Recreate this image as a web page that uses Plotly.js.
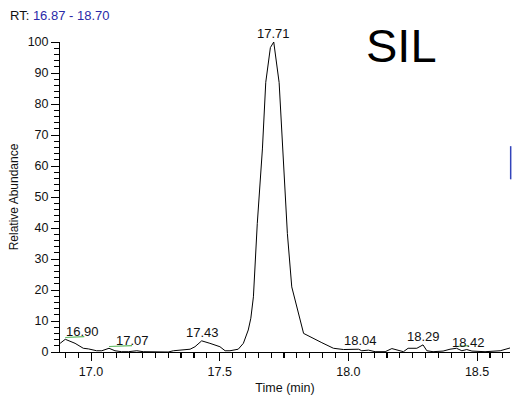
<!DOCTYPE html>
<html>
<head>
<meta charset="utf-8">
<script src="https://cdn.plot.ly/plotly-3.0.1.min.js"></script>
<style>html,body{margin:0;padding:0;background:#fff;}#chart{width:512px;height:395px;}</style>
</head>
<body>
<div id="chart"></div>
<script>
// Retention time (min)
var times = [16.880,16.900,16.938,16.970,16.990,17.022,17.042,17.070,17.093,17.119,
             17.145,17.178,17.203,17.249,17.300,17.320,17.346,17.385,17.404,17.430,
             17.462,17.501,17.521,17.540,17.572,17.592,17.611,17.621,17.631,17.646,
             17.666,17.679,17.697,17.710,17.731,17.763,17.780,17.826,17.897,17.942,
             17.981,18.014,18.040,18.052,18.078,18.104,18.143,18.169,18.194,18.214,
             18.232,18.266,18.290,18.305,18.329,18.368,18.395,18.420,18.441,18.460,
             18.480,18.531,18.590,18.616,18.628];
// Relative abundance (%)
var abundance = [2.8,4.1,2.8,1.2,1.0,0.4,0.4,1.2,0.4,0.1,
                 0.1,0.4,0.1,0.0,0.0,0.4,0.6,0.9,1.7,3.6,
                 2.8,1.7,0.4,0.4,0.9,2.8,7.1,10.9,17.8,41.4,
                 65.5,87.0,98.2,100,86.9,38.2,21.0,6.0,3.0,1.2,
                 0.8,0.8,0.9,0.4,0.6,0.1,0.1,1.1,0.5,0.1,
                 1.2,1.2,2.3,0.4,0.1,0.3,0.9,1.2,0.4,0.8,
                 0.3,0.1,0.4,1.1,1.3];
// Labelled peaks
var peakTimes = [16.90, 17.07, 17.43, 17.71, 18.04, 18.29, 18.42];
var rtStart = "16.87", rtEnd = "18.70";
var panelLabel = "SIL";

// label placement (pixels) -- layout only
var labelDX = [17, 23, 1, 0, 2, 0, 12];
var labelDY = [7.5, 8, 8.5, 9, 9, 8, 5.5];
var underlineLen = [19, 23, 0, 0, 0, 0, 12];

function valueAt(t){
  var best = 0;
  for (var i=0;i<times.length;i++){ if (Math.abs(times[i]-t) < Math.abs(times[best]-t)) best = i; }
  return abundance[best];
}

var XR = [16.8795, 18.628], YR = [0, 100];
var FONT = "Liberation Sans, Arial, sans-serif";
var annotations = [];
var shapes = [];
peakTimes.forEach(function(t, i){
  var v = valueAt(t);
  annotations.push({
    x: t, y: v, xref: 'x', yref: 'y', text: t.toFixed(2), showarrow: false,
    xanchor: 'center', yanchor: 'middle', xshift: labelDX[i], yshift: labelDY[i],
    font: {family: FONT, size: 13, color: '#111'}
  });
  if (underlineLen[i] > 0) {
    shapes.push({
      type: 'line', xref: 'x', yref: 'y', xsizemode: 'pixel', ysizemode: 'pixel',
      xanchor: t, yanchor: v, x0: 0, x1: underlineLen[i], y0: 1.8, y1: 2.6,
      line: {color: '#5cb85c', width: 1.2}
    });
  }
});

annotations.push({
  xref: 'paper', yref: 'paper', x: -0.1156, y: 1.085, xanchor: 'left', yanchor: 'middle',
  text: 'RT: <span style="color:#2a2aa8">' + rtStart + ' - ' + rtEnd + '</span>',
  showarrow: false, font: {family: FONT, size: 13, color: '#111'}
});
annotations.push({
  xref: 'paper', yref: 'paper', x: 0.758, y: 0.989, xanchor: 'center', yanchor: 'middle',
  text: panelLabel, showarrow: false, font: {family: FONT, size: 47, color: '#000'}
});
shapes.push({type: 'line', xref: 'paper', yref: 'paper', x0: 1.0015, x1: 1.0015, y0: 0.557, y1: 0.664,
             line: {color: '#3344bb', width: 1.5}});

var trace = {
  x: times, y: abundance, type: 'scatter', mode: 'lines',
  line: {color: '#000', width: 1}, hoverinfo: 'skip'
};

var layout = {
  width: 512, height: 395,
  margin: {l: 60, r: 2, t: 41.5, b: 42.5},
  paper_bgcolor: '#fff', plot_bgcolor: '#fff',
  showlegend: false,
  font: {family: FONT, color: '#111'},
  xaxis: {
    range: XR, showgrid: false, zeroline: false,
    showline: true, linecolor: '#000', linewidth: 1,
    ticks: 'outside', ticklen: 8, tickcolor: '#000', tickwidth: 1,
    tick0: 17.0, dtick: 0.5, tickformat: '.1f',
    tickfont: {family: FONT, size: 12.5, color: '#111'},
    minor: {ticks: 'outside', dtick: 0.05, ticklen: 5, tickcolor: '#000', tickwidth: 1.2},
    title: {text: 'Time (min)', font: {family: FONT, size: 12.5, color: '#111'}, standoff: 6},
    automargin: false
  },
  yaxis: {
    range: YR, showgrid: false, zeroline: false,
    showline: true, linecolor: '#000', linewidth: 1,
    ticks: 'outside', ticklen: 8, tickcolor: '#000', tickwidth: 1,
    tick0: 0, dtick: 10,
    tickfont: {family: FONT, size: 12.5, color: '#111'},
    minor: {ticks: 'outside', dtick: 2, ticklen: 5, tickcolor: '#000', tickwidth: 1.2},
    title: {text: 'Relative Abundance', font: {family: FONT, size: 12, color: '#111'}, standoff: 6},
    automargin: false
  },
  annotations: annotations,
  shapes: shapes
};

Plotly.newPlot('chart', [trace], layout, {displayModeBar: false, staticPlot: true});
</script>
</body>
</html>
